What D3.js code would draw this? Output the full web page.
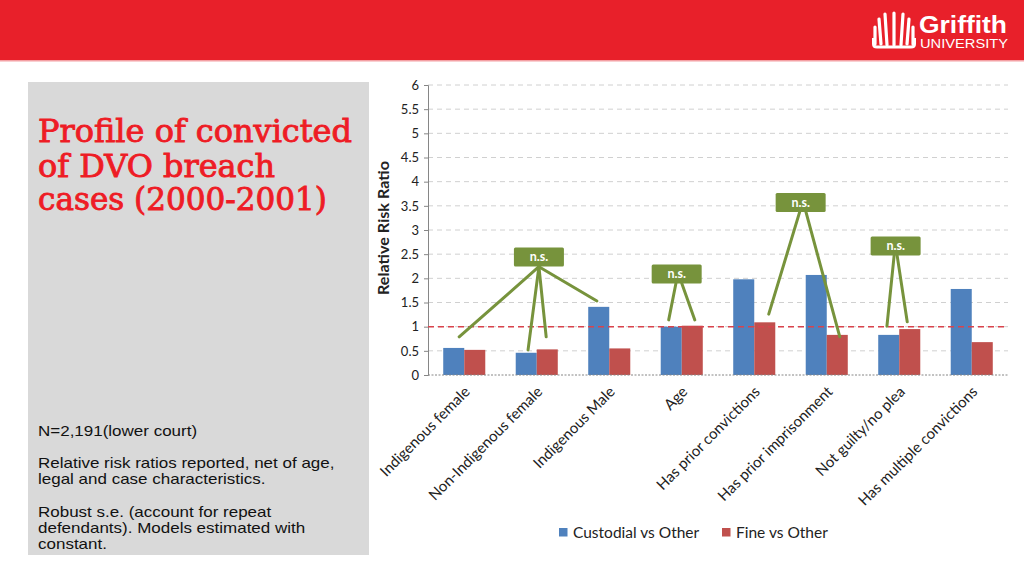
<!DOCTYPE html>
<html><head><meta charset="utf-8">
<script src="https://cdn.jsdelivr.net/npm/d3@7"></script>
<style>body{margin:0;background:#fff;}svg{display:block;}</style>
</head><body>
<svg id="c" width="1024" height="576"></svg>
<script>
const categories = ["Indigenous female","Non-Indigenous female","Indigenous Male","Age","Has prior convictions","Has prior imprisonment","Not guilty/no plea","Has multiple convictions"];
const seriesNames = ["Custodial vs Other","Fine vs Other"];
const custodial = [0.56, 0.46, 1.41, 1.00, 1.98, 2.07, 0.83, 1.78];
const fine = [0.52, 0.53, 0.55, 1.02, 1.09, 0.83, 0.95, 0.68];
const yTicks = [0,0.5,1,1.5,2,2.5,3,3.5,4,4.5,5,5.5,6];
const referenceValue = 1;
// "n.s." callouts: box centre (category units, value) and line targets
const callouts = [
  {label:"n.s.", cx:1.03, cy:2.44, from:[[1.03,2.24],[1.03,2.24],[1.03,2.24],[1.03,2.24]], to:[[-0.07,0.79],[0.88,0.52],[1.13,0.79],[1.83,1.53]]},
  {label:"n.s.", cx:2.93, cy:2.09, from:[[2.92,1.90],[3.00,1.90]], to:[[2.82,1.14],[3.18,1.14]]},
  {label:"n.s.", cx:4.64, cy:3.57, from:[[4.63,3.39],[4.71,3.39]], to:[[4.20,1.26],[5.18,0.79]]},
  {label:"n.s.", cx:5.95, cy:2.67, from:[[5.93,2.48],[5.97,2.48]], to:[[5.83,1.01],[6.11,1.10]]}
];
const titleLines = ["Profile of convicted","of DVO breach","cases (2000-2001)"];
const noteLines = [["N=2,191(lower court)"],["Relative risk ratios reported, net of age,","legal and case characteristics."],["Robust s.e. (account for repeat","defendants). Models estimated with","constant."]];

const svg = d3.select("#c");
const colors = {custodial:"#4f81bd", fine:"#c0504d", green:"#77933c"};
const calibri = "Lato, Carlito, Calibri, sans-serif";

// header
svg.append("rect").attr("x",0).attr("y",0).attr("width",1024).attr("height",61).attr("fill","#e8202a");
svg.append("rect").attr("x",0).attr("y",60).attr("width",1024).attr("height",1.5).attr("fill","#f4a0a4");
// logo
const logo = svg.append("g").attr("transform","translate(873,14)");
const leaves = [[[2,30],[2,13]],[[8,30],[6,5]],[[14,31],[12,0]],[[21,31],[21,-1]],[[28,31],[30,0]],[[34,30],[36,5]],[[40,30],[40,13]]];
leaves.forEach(l=>logo.append("line").attr("x1",l[0][0]).attr("y1",l[0][1]).attr("x2",l[1][0]).attr("y2",l[1][1])
  .attr("stroke","#fff").attr("stroke-width",3.2).attr("stroke-linecap","round"));
logo.append("path").attr("d","M0.5,24 L0.5,30 Q0.5,33 4,33 L38,33 Q41.5,33 41.5,30 L41.5,24").attr("fill","none").attr("stroke","#fff").attr("stroke-width",3);
svg.append("text").attr("x",919).attr("y",32.5).attr("font-family","Liberation Sans, Arial").attr("font-weight","bold").attr("font-size",23)
  .attr("fill","#fff").attr("textLength",88).attr("lengthAdjust","spacingAndGlyphs").text("Griffith");
svg.append("text").attr("x",920).attr("y",48).attr("font-family","Liberation Sans, Arial").attr("font-size",12)
  .attr("fill","#fff").attr("textLength",88).attr("lengthAdjust","spacingAndGlyphs").text("UNIVERSITY");

// left panel
svg.append("rect").attr("x",28).attr("y",82).attr("width",341).attr("height",473).attr("fill","#d9d9d9");
const tBase = [142,176.5,209.5];
const tLen = [314,237,289];
titleLines.forEach((t,i)=>{
  svg.append("text").attr("x",38).attr("y",tBase[i]).attr("font-family","DejaVu Serif, Liberation Serif, serif")
    .attr("font-size",31).attr("fill","#ee1c25").attr("stroke","#ee1c25").attr("stroke-width",0.9)
    .attr("textLength",tLen[i]).attr("lengthAdjust","spacingAndGlyphs").text(t);
});
const noteBase = [436, 467.5, 516.5];
noteLines.forEach((grp,gi)=>{
  grp.forEach((line,li)=>{
    svg.append("text").attr("transform",`translate(38,${noteBase[gi]+li*16.2}) scale(1,0.82)`)
      .attr("font-family","Liberation Sans, Arial").attr("font-size",17).attr("fill","#111").text(line);
  });
});

// chart
const plot = {left:428, right:1008, top:85, bottom:375};
const x0 = d3.scaleBand().domain(categories).range([plot.left,plot.right]).paddingInner(0.42).paddingOuter(0.21);
const x1 = d3.scaleBand().domain(seriesNames).range([0,x0.bandwidth()]);
const xc = d3.scaleLinear().domain([-0.5,categories.length-0.5]).range([plot.left,plot.right]);
const y = d3.scaleLinear().domain([0,6]).range([plot.bottom,plot.top]);

// gridlines
svg.append("g").selectAll("line").data(yTicks.filter(v=>v>0)).join("line")
  .attr("x1",plot.left).attr("x2",plot.right).attr("y1",d=>y(d)).attr("y2",d=>y(d))
  .attr("stroke","#d0d0d0").attr("stroke-width",1).attr("stroke-dasharray","5,4");

// y axis
const yAxis = svg.append("g").attr("transform",`translate(${plot.left},0)`)
  .call(d3.axisLeft(y).tickValues(yTicks).tickFormat(d=>d3.format("")(d)).tickSize(4).tickPadding(5));
yAxis.select(".domain").attr("stroke","#868686");
yAxis.selectAll(".tick line").attr("stroke","#868686");
yAxis.selectAll("text").attr("font-family",calibri).attr("font-size",13).attr("fill","#222");

// bars
const rows = categories.map((c,i)=>({cat:c, vals:[custodial[i],fine[i]]}));
const g = svg.append("g");
rows.forEach(r=>{
  g.selectAll(null).data(r.vals.map((v,j)=>({s:seriesNames[j],v}))).join("rect")
    .attr("x",d=>x0(r.cat)+x1(d.s)).attr("width",x1.bandwidth()).attr("y",d=>y(d.v)).attr("height",d=>y(0)-y(d.v))
    .attr("fill",d=>d.s===seriesNames[0]?colors.custodial:colors.fine);
});
// x baseline
svg.append("line").attr("x1",plot.left).attr("x2",plot.right).attr("y1",y(0)).attr("y2",y(0))
  .attr("stroke","#868686").attr("stroke-dasharray","2,1.5");

// reference line
svg.append("line").attr("x1",plot.left).attr("x2",plot.right).attr("y1",y(referenceValue)).attr("y2",y(referenceValue))
  .attr("stroke","#d9434c").attr("stroke-width",1.5).attr("stroke-dasharray","6,4");

// x labels
svg.append("g").selectAll("text").data(categories).join("text")
  .attr("transform",d=>`translate(${x0(d)+x0.bandwidth()/2+3},389) rotate(-45)`)
  .attr("text-anchor","end").attr("dy","0.35em")
  .attr("font-family",calibri).attr("font-size",15).attr("fill","#222").text(d=>d);

// y title
svg.append("text").attr("transform",`translate(389,228) rotate(-90)`).attr("text-anchor","middle")
  .attr("font-family",calibri).attr("font-weight","bold").attr("font-size",15.5).attr("fill","#222")
  .attr("textLength",134).attr("lengthAdjust","spacingAndGlyphs")
  .text("Relative Risk Ratio");

// callouts
const cg = svg.append("g");
callouts.forEach(c=>{
  c.from.forEach((f,k)=>{
    cg.append("line").attr("x1",xc(f[0])).attr("y1",y(f[1])).attr("x2",xc(c.to[k][0])).attr("y2",y(c.to[k][1]))
      .attr("stroke",colors.green).attr("stroke-width",3).attr("stroke-linecap","round");
  });
  cg.append("rect").attr("x",xc(c.cx)-25).attr("y",y(c.cy)-9.5).attr("width",50).attr("height",19).attr("rx",1.5)
    .attr("fill",colors.green);
  cg.append("text").attr("x",xc(c.cx)).attr("y",y(c.cy)).attr("dy","0.35em").attr("text-anchor","middle")
    .attr("font-family",calibri).attr("font-weight","bold").attr("font-size",12.5).attr("fill","#fff").text(c.label);
});

// legend
const legend = svg.append("g");
const legX = [559, 722];
seriesNames.forEach((s,i)=>{
  legend.append("rect").attr("x",legX[i]).attr("y",528).attr("width",8.5).attr("height",8.5).attr("fill",i===0?colors.custodial:colors.fine);
  legend.append("text").attr("x",legX[i]+14).attr("y",537.5).attr("font-family",calibri).attr("font-size",15.5).attr("fill","#222").text(s);
});
</script>
</body></html>
